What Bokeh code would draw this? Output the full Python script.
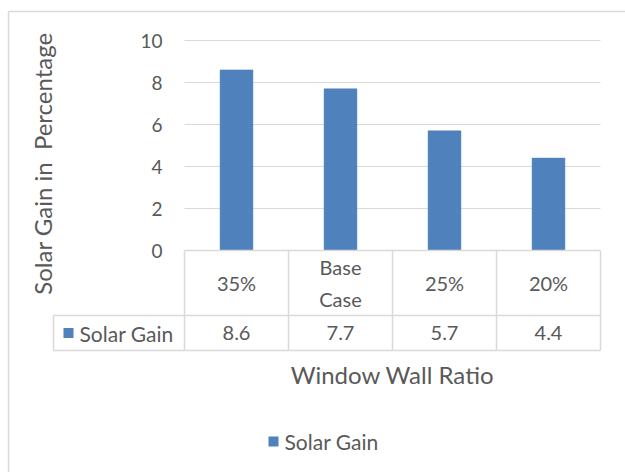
from bokeh.plotting import figure
from bokeh.models import Range1d, ColumnDataSource
from bokeh.core.properties import value
from bokeh.embed import file_html
from bokeh.resources import INLINE

# Data
categories = ["35%", "Base\nCase", "25%", "20%"]
solar_gain = [8.6, 7.7, 5.7, 4.4]
y_ticks = [0, 2, 4, 6, 8, 10]
series_name = "Solar Gain"
x_title = "Window Wall Ratio"
y_title = "Solar Gain in\u00a0 Percentage"

W, H = 625, 472
FONT = value("Lato")
TXT = "#595959"
LINE = "#D9D9D9"
BAR = "#4F81BD"

# Plot area geometry (pixels)
left, right = 184, 600
zero_px, top_px = 250, 40
n = len(categories)
cat_px = (right - left) / n
unit_px = (zero_px - top_px) / max(y_ticks)

p = figure(
    width=W, height=H, output_backend="svg", toolbar_location=None,
    x_range=Range1d(-left / cat_px, (W - left) / cat_px),
    y_range=Range1d(-(H - zero_px) / unit_px, zero_px / unit_px),
    x_axis_location=None, y_axis_location=None, min_border=0,
)
p.grid.visible = False
p.outline_line_color = None
p.background_fill_color = "white"
p.border_fill_color = "white"
p.extra_x_ranges = {"px": Range1d(0, W)}
p.extra_y_ranges = {"px": Range1d(H, 0)}

xs = [i + 0.5 for i in range(n)]

# outer chart border (top and left edges)
p.segment(x0=[8, 8], y0=[11, 11], x1=[W, 8], y1=[11, H], line_color=LINE,
          line_width=1.5, x_range_name="px", y_range_name="px")

# horizontal gridlines
p.segment(x0=left, x1=right, y0=y_ticks[1:], y1=y_ticks[1:], line_color=LINE,
          line_width=1.2, x_range_name="px")

# y tick labels
p.text(x=162, y=y_ticks, text=[str(t) for t in y_ticks], x_range_name="px",
       text_font=FONT, text_font_size="19px", text_color=TXT,
       text_align="right", text_baseline="middle")

# bars
src = ColumnDataSource(dict(x=xs, top=solar_gain))
p.vbar(x="x", top="top", bottom=0, width=0.316, source=src,
       fill_color=BAR, line_color=BAR, line_width=0.5)

# data table grid
row1, row2, row3 = 250, 315, 350
p.segment(x0=left, x1=right, y0=row1, y1=row1, line_color=LINE, line_width=1.5,
          x_range_name="px", y_range_name="px")
p.segment(x0=[53, 53], x1=[right, right], y0=[row2, row3], y1=[row2, row3],
          line_color=LINE, line_width=1.5, x_range_name="px", y_range_name="px")
p.segment(x0=list(range(n + 1)), x1=list(range(n + 1)), y0=row1, y1=row3,
          line_color=LINE, line_width=1.5, y_range_name="px")
p.segment(x0=53, x1=53, y0=row2, y1=row3, line_color=LINE, line_width=1.5,
          x_range_name="px", y_range_name="px")

# category labels
p.text(x=xs, y=(row1 + row2) / 2, text=categories, y_range_name="px",
       text_font=FONT, text_font_size="20px", text_color=TXT,
       text_align="center", text_baseline="middle", text_line_height=1.3)

# value row
p.text(x=xs, y=(row2 + row3) / 2, text=[f"{v:.1f}" for v in solar_gain],
       y_range_name="px", text_font=FONT, text_font_size="20px", text_color=TXT,
       text_align="center", text_baseline="middle")
p.rect(x=68, y=(row2 + row3) / 2, width=10, height=10, fill_color=BAR,
       line_color=None, x_range_name="px", y_range_name="px")
p.text(x=79, y=(row2 + row3) / 2, text=[series_name], x_range_name="px",
       y_range_name="px", text_font=FONT, text_font_size="21px", text_color=TXT,
       text_align="left", text_baseline="middle")

# axis titles
p.text(x=392, y=374, text=[x_title], x_range_name="px",
       y_range_name="px", text_font=FONT, text_font_size="24px", text_color=TXT,
       text_align="center", text_baseline="middle")
p.text(x=42, y=163, text=[y_title], angle=1.5708, x_range_name="px",
       y_range_name="px", text_font=FONT, text_font_size="24px", text_color=TXT,
       text_align="center", text_baseline="middle")

# legend
p.rect(x=273, y=441, width=10, height=10, fill_color=BAR, line_color=None,
       x_range_name="px", y_range_name="px")
p.text(x=284, y=441, text=[series_name], x_range_name="px", y_range_name="px",
       text_font=FONT, text_font_size="21px", text_color=TXT,
       text_align="left", text_baseline="middle")

open("out.html", "w").write(file_html(p, INLINE))
